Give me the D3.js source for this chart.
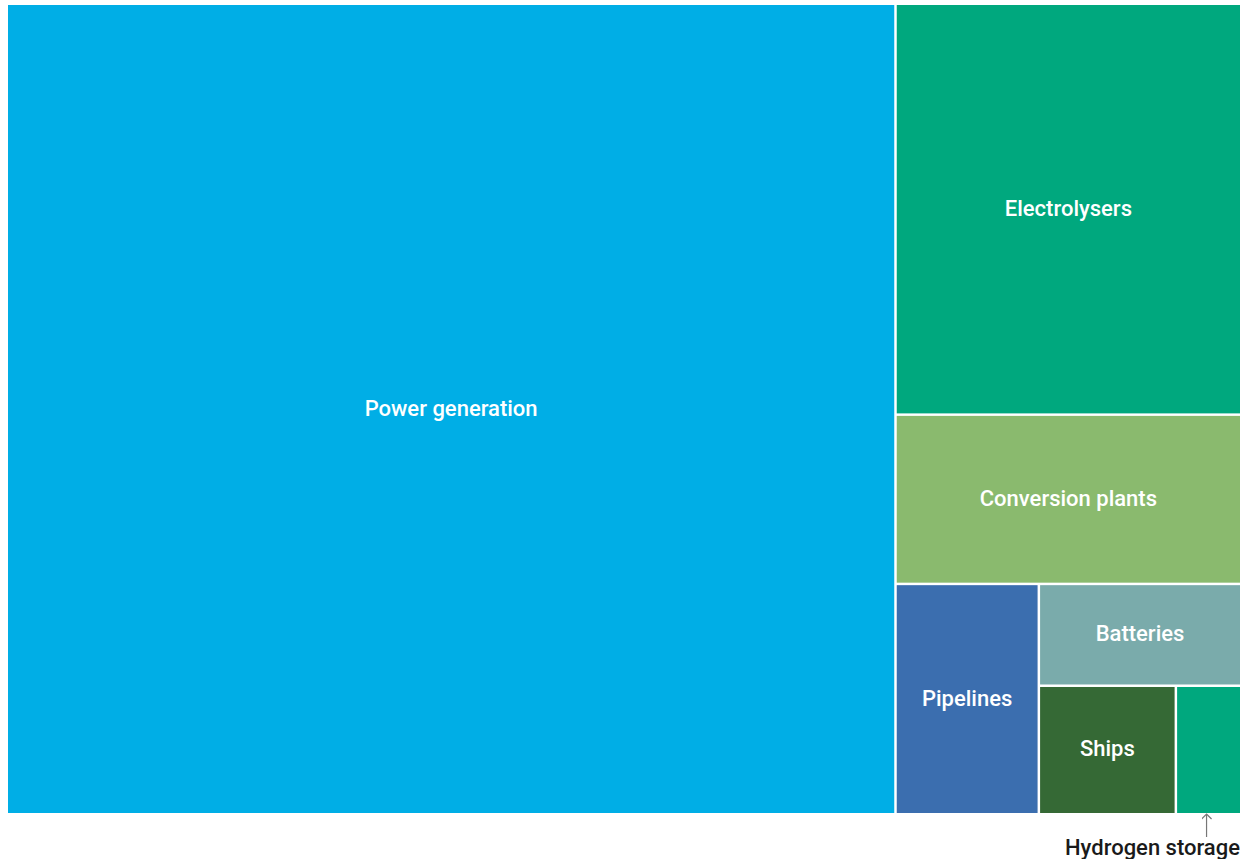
<!DOCTYPE html>
<html>
<head>
<meta charset="utf-8">
<script src="https://cdn.jsdelivr.net/npm/d3@7"></script>
<style>
  html, body { margin: 0; padding: 0; background: #ffffff; }
  svg { display: block; }
  text { font-family: Roboto, "Noto Sans", sans-serif; font-weight: 500; }
</style>
</head>
<body>
<svg id="chart" width="1248" height="859"></svg>
<script>
// Investment shares by segment (per cent of total)
const categories = ["Power generation", "Electrolysers", "Conversion plants", "Pipelines", "Batteries", "Ships", "Hydrogen storage"];
const shares = [72.0, 14.2, 5.85, 3.3, 2.06, 1.76, 0.84];
const colors = ["#00aee6", "#00a87e", "#8aba6e", "#3b6eaf", "#7aabab", "#356935", "#00a87e"];
// Segments too small to carry an inside label get a callout below
const calloutCategories = ["Hydrogen storage"];

const area = { x0: 8, y0: 5, x1: 1240, y1: 813 };

const svg = d3.select("#chart");

const root = d3.hierarchy({
  children: categories.map((name, i) => ({ name, value: shares[i], color: colors[i] }))
})
  .sum(d => d.value || 0);

d3.treemap()
  .tile(d3.treemapSquarify.ratio(1))
  .size([area.x1 - area.x0, area.y1 - area.y0])
  .paddingInner(2.5)
  .round(false)(root);

const g = svg.append("g")
  .attr("transform", `translate(${area.x0},${area.y0})`);

const cell = g.selectAll("g.cell")
  .data(root.leaves())
  .join("g")
  .attr("class", "cell");

cell.append("rect")
  .attr("x", d => d.x0)
  .attr("y", d => d.y0)
  .attr("width", d => d.x1 - d.x0)
  .attr("height", d => d.y1 - d.y0)
  .attr("fill", d => d.data.color);

cell.filter(d => !calloutCategories.includes(d.data.name))
  .append("text")
  .attr("x", d => (d.x0 + d.x1) / 2)
  .attr("y", d => (d.y0 + d.y1) / 2 - 1)
  .attr("text-anchor", "middle")
  .attr("dominant-baseline", "central")
  .attr("fill", "#ffffff")
  .attr("font-size", 22)
  .text(d => d.data.name);

// Callout for the smallest segment: arrow pointing up at the cell, label below
const defs = svg.append("defs");
defs.append("marker")
  .attr("id", "arrowhead")
  .attr("viewBox", "0 0 10 10")
  .attr("refX", 5)
  .attr("refY", 1)
  .attr("markerWidth", 10)
  .attr("markerHeight", 10)
  .attr("markerUnits", "userSpaceOnUse")
  .attr("orient", "0")
  .append("path")
  .attr("d", "M0,6 L5,1 L10,6")
  .attr("fill", "none")
  .attr("stroke", "#777777")
  .attr("stroke-width", 1.2);

root.leaves()
  .filter(d => calloutCategories.includes(d.data.name))
  .forEach(d => {
    const cx = area.x0 + (d.x0 + d.x1) / 2 - 2;
    const bottom = area.y0 + d.y1;
    svg.append("line")
      .attr("x1", cx).attr("x2", cx)
      .attr("y1", bottom + 1).attr("y2", bottom + 24)
      .attr("stroke", "#777777")
      .attr("stroke-width", 1.2)
      .attr("marker-start", "url(#arrowhead)");
    svg.append("text")
      .attr("x", area.x0 + d.x1)
      .attr("y", 855)
      .attr("text-anchor", "end")
      .attr("fill", "#1a1a1a")
      .attr("font-size", 22)
      .text(d.data.name);
  });
</script>
</body>
</html>
